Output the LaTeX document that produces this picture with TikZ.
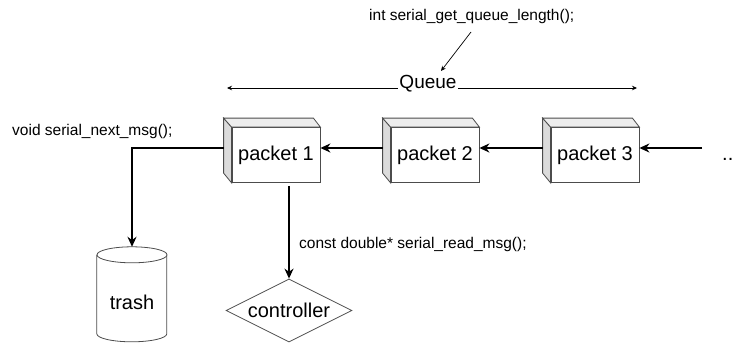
\documentclass[tikz,border=0pt]{standalone}
\usepackage{fontspec}
\setmainfont{Liberation Sans}
\usetikzlibrary{arrows.meta,shapes.geometric,calc}
\begin{document}
\begin{tikzpicture}[x=1pt,y=-1pt,
  outline/.style={draw=black!70, line width=0.8pt},
  face/.style={outline, fill=white, minimum width=88pt, minimum height=55pt, inner sep=0pt, font=\fontsize{20}{24}\selectfont},
  bigtext/.style={font=\fontsize{20}{24}\selectfont, inner sep=0pt},
  small/.style={font=\fontsize{15.5}{18}\selectfont, inner sep=0pt},
  conn/.style={line width=2pt, -{Stealth[length=10pt,width=9pt]}},
  thinarrow/.style={line width=0.7pt, -{Stealth[length=5pt,width=4.5pt]}},
]
\useasboundingbox (0,0) rectangle (733,343);

% packets (front faces)
\node[face] (p1) at (276,155) {packet 1};
\node[face] (p2) at (435,155) {packet 2};
\node[face] (p3) at (595,155) {packet 3};
\foreach \p in {p1,p2,p3}{
  \draw[outline, fill=gray!28] (\p.north west) -- ++(-8,-9) -- ++(0,55) -- (\p.south west) -- cycle;
  \draw[outline, fill=gray!14] (\p.north west) -- ++(-8,-9) -- ($(\p.north east)+(-7,-9)$) -- (\p.north east) -- cycle;
}

% trash cylinder
\node[bigtext, minimum width=70pt, minimum height=95pt] (trash) at (132,294.5) {};
\draw[outline, fill=white] ($(trash.north west)+(0,8)$) -- ++(0,79)
  arc[start angle=180, end angle=360, x radius=35pt, y radius=8pt] -- ++(0,-79);
\draw[outline, fill=white] ($(trash.north)+(0,8)$) ellipse[x radius=35pt, y radius=8pt];
\node[bigtext] (trashlabel) at (132,302) {trash};

% controller diamond
\node[diamond, outline, fill=white, bigtext, aspect=2, minimum width=126pt, minimum height=63pt] (ctrl) at (289,310.5) {controller};

% connectors
\draw[conn] ([xshift=-8pt,yshift=7pt]p2.west) -- ([yshift=7pt]p1.east);
\draw[conn] ([xshift=-8pt,yshift=7pt]p3.west) -- ([yshift=7pt]p2.east);
\coordinate (more) at (702,148);
\draw[conn] (more) -- (more -| p3.east);
\draw[conn] ([xshift=-8pt,yshift=7pt]p1.west) -| (trash.north);
\coordinate (c1) at (p1.south -| ctrl.north);
\draw[conn] ([yshift=-3pt]c1) -- (ctrl.north);

\node[bigtext, anchor=base west] (dots) at (722,160) {..};

% labels
\node[small, anchor=base west] (lnext) at (12,135) {void serial\_next\_msg();};
\node[small, anchor=base west] (lread) at (299,248) {const double* serial\_read\_msg();};
\node[small, anchor=base west] (lget) at (369,20) {int serial\_get\_queue\_length();};

% queue span
\coordinate (ql) at (227,88);
\coordinate (qr) at (637,88);
\draw[line width=0.7pt, {Stealth[length=5pt,width=4.5pt]}-{Stealth[length=5pt,width=4.5pt]}] (ql) -- (qr);
\node[font=\fontsize{19}{22}\selectfont, fill=white, inner sep=1pt, anchor=base] (queue) at (428,88) {Queue};

\coordinate (gs) at (471,32);
\coordinate (ge) at (441,71);
\draw[thinarrow] (gs) -- (ge);
\end{tikzpicture}
\end{document}
